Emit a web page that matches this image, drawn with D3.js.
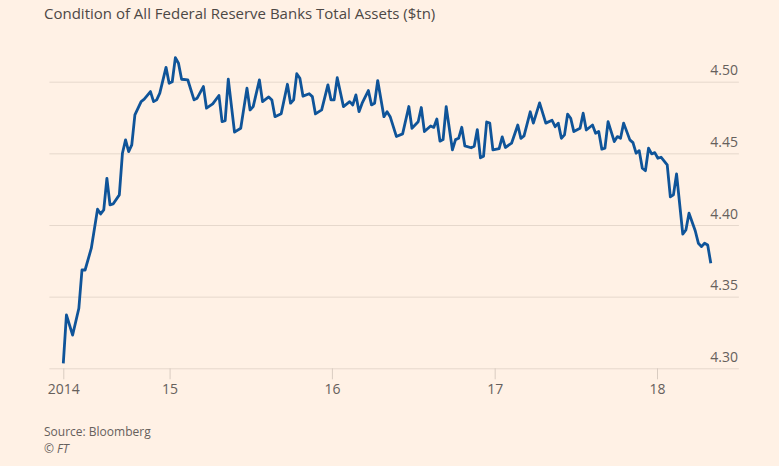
<!DOCTYPE html>
<html>
<head>
<meta charset="utf-8">
<script src="https://cdn.jsdelivr.net/npm/d3@7.9.0/dist/d3.min.js"></script>
<style>
  html, body { margin: 0; padding: 0; background: #fff1e5; }
  svg { display: block; font-family: "Open Sans", sans-serif; }
</style>
</head>
<body>
<svg id="chart" width="779" height="466"></svg>
<script>
/* ------------------------------- Data ------------------------------- */
// weekly series: week offset from the first reading + value ($tn)
const startDate = "2014-05-07";
const weeks = [
  0, 1, 3, 5, 6, 7, 9, 11, 12, 13, 14, 15, 16, 18, 19, 20, 21, 22, 23, 25,
  26, 28, 29, 30, 31, 33, 34, 35, 36, 37, 38, 40, 42, 43, 45, 46, 48, 50, 51, 52,
  53, 55, 57, 59, 60, 61, 63, 64, 66, 67, 68, 70, 72, 73, 74, 75, 76, 77, 79, 80,
  81, 83, 85, 86, 87, 88, 90, 92, 93, 94, 95, 96, 98, 99, 100, 101, 103, 104, 105, 107,
  109, 111, 112, 114, 115, 116, 118, 119, 120, 121, 122, 123, 125, 126, 127, 128, 129, 131, 132, 133,
  134, 135, 136, 137, 138, 140, 141, 142, 144, 146, 147, 148, 150, 151, 153, 155, 157, 158, 159, 160,
  161, 162, 163, 164, 166, 167, 168, 170, 171, 172, 173, 174, 175, 177, 178, 179, 180, 182, 183, 184,
  185, 186, 187, 188, 189, 190, 191, 192, 194, 195, 196, 197, 199, 200, 201, 203, 204, 205, 206, 207,
  208
];
const values = [
  4.3035, 4.3372, 4.3232, 4.3419, 4.3686, 4.3686, 4.3838, 4.4110, 4.4077, 4.4105,
  4.4326, 4.4140, 4.4147, 4.4210, 4.4501, 4.4594, 4.4512, 4.4559, 4.4768, 4.4861,
  4.4878, 4.4931, 4.4861, 4.4873, 4.4920, 4.5100, 4.4989, 4.5000, 4.5168, 4.5129,
  4.5017, 4.5012, 4.4873, 4.4885, 4.4966, 4.4815, 4.4845, 4.4904, 4.4721, 4.4728,
  4.5018, 4.4648, 4.4675, 4.4955, 4.4803, 4.4826, 4.5013, 4.4861, 4.4894, 4.4873,
  4.4756, 4.4777, 4.4982, 4.4850, 4.4873, 4.5056, 4.5024, 4.4899, 4.4916, 4.4896,
  4.4775, 4.4803, 4.4978, 4.4873, 4.4873, 4.5028, 4.4826, 4.4861, 4.4838, 4.4908,
  4.4791, 4.4850, 4.4938, 4.4838, 4.4850, 4.5008, 4.4756, 4.4791, 4.4756, 4.4618,
  4.4636, 4.4827, 4.4675, 4.4721, 4.4820, 4.4652, 4.4691, 4.4681, 4.4740, 4.4585,
  4.4596, 4.4826, 4.4524, 4.4596, 4.4605, 4.4682, 4.4552, 4.4539, 4.4550, 4.4666,
  4.4469, 4.4480, 4.4719, 4.4711, 4.4524, 4.4533, 4.4615, 4.4541, 4.4571, 4.4698,
  4.4604, 4.4622, 4.4790, 4.4711, 4.4852, 4.4711, 4.4731, 4.4686, 4.4711, 4.4605,
  4.4629, 4.4773, 4.4745, 4.4652, 4.4675, 4.4780, 4.4663, 4.4698, 4.4640, 4.4652,
  4.4529, 4.4536, 4.4721, 4.4582, 4.4617, 4.4605, 4.4711, 4.4594, 4.4575, 4.4501,
  4.4519, 4.4396, 4.4379, 4.4536, 4.4496, 4.4505, 4.4466, 4.4473, 4.4419, 4.4196,
  4.4210, 4.4356, 4.3937, 4.3965, 4.4082, 4.3960, 4.3873, 4.3849, 4.3873, 4.3860,
  4.3733
];
const yTicks = [4.30, 4.35, 4.40, 4.45, 4.50];
const xTickDates = ["2014-05-07", "2015-01-01", "2016-01-01", "2017-01-01", "2018-01-01"];
const xTickLabels = ["2014", "15", "16", "17", "18"];

/* ------------------------------ Layout ------------------------------ */
const W = 779, H = 466;
const plot = { left: 63.3, right: 710.8, top: 81.7, bottom: 368.3 };
const grid = { left: 49.4, right: 738.9 };

const parse = d3.utcParse("%Y-%m-%d");
const t0 = parse(startDate);
const data = weeks.map((w, i) => ({ date: d3.utcDay.offset(t0, w * 7), value: values[i] }));

const x = d3.scaleUtc()
  .domain(d3.extent(data, d => d.date))
  .range([plot.left, plot.right]);

const y = d3.scaleLinear()
  .domain([4.30, 4.50])
  .range([plot.bottom, plot.top]);

const svg = d3.select("#chart");

svg.append("rect").attr("width", W).attr("height", H).attr("fill", "#fff1e5");

// title
svg.append("text")
  .attr("x", 44)
  .attr("y", 18.5)
  .attr("fill", "#4d4845")
  .attr("font-size", 15)
  .text("Condition of All Federal Reserve Banks Total Assets ($tn)");

// y grid + labels on the right
const yAxis = d3.axisRight(y)
  .tickValues(yTicks)
  .tickFormat(d3.format(".2f"))
  .tickSize(grid.right - grid.left);

const gy = svg.append("g")
  .attr("transform", `translate(${grid.left},0)`)
  .call(yAxis);
gy.select(".domain").remove();
gy.selectAll(".tick line").attr("stroke", "#e6d8cc").attr("stroke-width", 1);
gy.selectAll(".tick text")
  .attr("x", grid.right - grid.left - 1)
  .attr("dy", null)
  .attr("y", -7)
  .attr("text-anchor", "end")
  .attr("fill", "#66605c")
  .attr("font-size", 14)
  .attr("font-family", "'Open Sans', sans-serif");

// x axis
const xAxis = d3.axisBottom(x)
  .tickValues(xTickDates.map(parse))
  .tickFormat((d, i) => xTickLabels[i])
  .tickSize(11)
  .tickPadding(5);

const gx = svg.append("g")
  .attr("transform", `translate(0,${plot.bottom})`)
  .call(xAxis);
gx.select(".domain").remove();
gx.selectAll(".tick line").attr("stroke", "#d9ccc1");
gx.selectAll(".tick text")
  .attr("fill", "#66605c")
  .attr("font-size", 14)
  .attr("font-family", "'Open Sans', sans-serif");

// the line
const line = d3.line()
  .x(d => x(d.date))
  .y(d => y(d.value));

svg.append("path")
  .datum(data)
  .attr("fill", "none")
  .attr("stroke", "#0f5499")
  .attr("stroke-width", 2.8)
  .attr("stroke-linejoin", "round")
  .attr("stroke-linecap", "butt")
  .attr("d", line);

// footer
svg.append("text")
  .attr("x", 44)
  .attr("y", 436)
  .attr("fill", "#66605c")
  .attr("font-size", 12)
  .text("Source: Bloomberg");

svg.append("text")
  .attr("x", 44)
  .attr("y", 453)
  .attr("fill", "#66605c")
  .attr("font-size", 12)
  .attr("font-style", "italic")
  .text("© FT");
</script>
</body>
</html>
